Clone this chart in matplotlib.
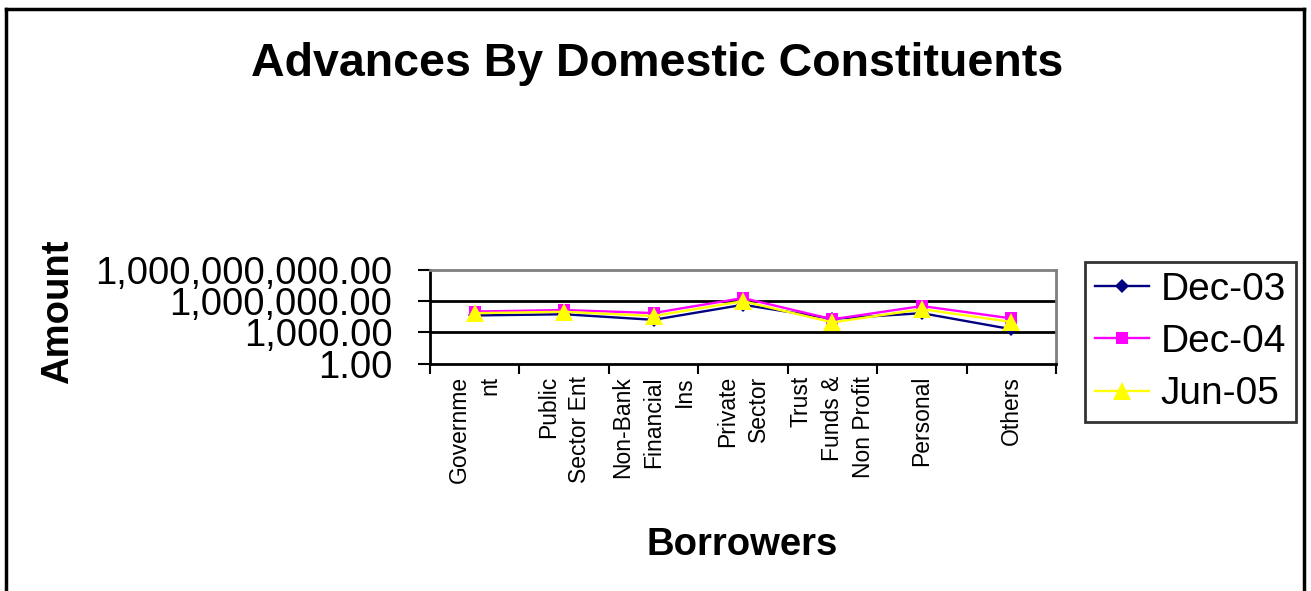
import matplotlib
matplotlib.use("Agg")
import matplotlib.pyplot as plt
from matplotlib.lines import Line2D
from matplotlib.ticker import FixedLocator, FuncFormatter, NullLocator

plt.rcParams['font.family'] = ['Liberation Sans', 'DejaVu Sans']

categories = ["Governme\nnt", "Public\nSector Ent", "Non-Bank\nFinancial\nIns",
              "Private\nSector", "Trust\nFunds &\nNon Profit", "Personal", "Others"]
series_names = ["Dec-03", "Dec-04", "Jun-05"]
dec03 = [42000, 55000, 16000, 450000, 20000, 70000, 2000]
dec04 = [100000, 140000, 72000, 2000000, 18000, 340000, 22000]
jun05 = [70000, 95000, 37000, 1000000, 9000, 170000, 10000]
y_ticks = [1, 1e3, 1e6, 1e9]

W, H = 1311, 591
fig = plt.figure(figsize=(W / 100, H / 100), dpi=100)
ax = fig.add_axes([430 / W, 1 - 363.5 / H, (1056 - 430) / W, (363.5 - 270) / H])

x = list(range(len(categories)))
styles = [
    dict(color="#000080", marker="D", markersize=7, zorder=3),
    dict(color="#FF00FF", marker="s", markersize=9, zorder=4),
    dict(color="#FFFF00", marker="^", markersize=13, zorder=5),
]
for vals, name, st in zip([dec03, dec04, jun05], series_names, styles):
    ax.plot(x, vals, lw=1.7, label=name, markeredgewidth=0,
            color=st["color"], marker=st["marker"], markersize=st["markersize"],
            zorder=st["zorder"])

ax.set_yscale("log")
ax.set_ylim(1, 1e9)
ax.yaxis.set_major_locator(FixedLocator(y_ticks))
ax.yaxis.set_minor_locator(NullLocator())
ax.yaxis.set_major_formatter(FuncFormatter(lambda v, p: f"{v:,.2f}"))
ax.tick_params(axis="y", which="major", direction="out", length=9, width=1.5,
               labelsize=27.5, pad=18)
for yv in [1e3, 1e6]:
    ax.axhline(yv, color="black", lw=2, zorder=1)

ax.set_xlim(-0.5, len(categories) - 0.5)
ax.set_xticks([i - 0.5 for i in range(len(categories) + 1)])
ax.set_xticklabels([])
ax.set_xticks(x, minor=True)
ax.set_xticklabels(categories, minor=True, rotation=90, va="top", ha="center",
                   multialignment="right", fontsize=16.5, linespacing=1.45)
ax.tick_params(axis="x", which="major", direction="out", length=7, width=1.5)
ax.tick_params(axis="x", which="minor", length=0, pad=9)

for s in ["left", "bottom"]:
    ax.spines[s].set_color("black")
    ax.spines[s].set_linewidth(2)
for s in ["top", "right"]:
    ax.spines[s].set_color("#808080")
    ax.spines[s].set_linewidth(2)

fig.text(657 / W, 1 - 64 / H, "Advances By Domestic Constituents",
         fontsize=33.5, fontweight="bold", ha="center", va="center")
fig.text(58 / W, 1 - 312 / H, "Amount", fontsize=27.5, fontweight="bold",
         rotation=90, ha="center", va="center")
fig.text(742 / W, 1 - 545 / H, "Borrowers", fontsize=27.5, fontweight="bold",
         ha="center", va="center")

leg = fig.legend(loc="upper left", bbox_to_anchor=(1085 / W, 1 - 262 / H),
                 fontsize=28, frameon=True, fancybox=False, edgecolor="black",
                 handlelength=1.4, handletextpad=0.3, labelspacing=0.42,
                 borderpad=0.25, borderaxespad=0)
leg.get_frame().set_linewidth(2)

# chart area border
fig.add_artist(Line2D([6 / W, 6 / W], [0, 1 - 9 / H], color="black", lw=2.5))
fig.add_artist(Line2D([6 / W, 1304 / W], [1 - 9 / H, 1 - 9 / H], color="black", lw=2.5))
fig.add_artist(Line2D([1304 / W, 1304 / W], [0, 1 - 9 / H], color="black", lw=2.5))

fig.savefig("out.png", dpi=100)
